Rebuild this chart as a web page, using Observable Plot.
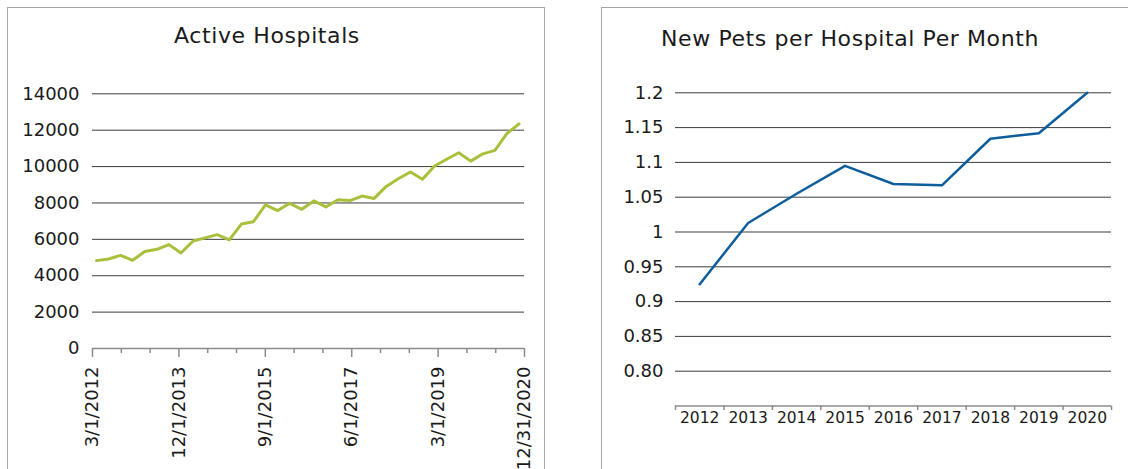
<!DOCTYPE html>
<html><head><meta charset="utf-8">
<script src="https://cdn.jsdelivr.net/npm/d3@7"></script>
<script src="https://cdn.jsdelivr.net/npm/@observablehq/plot@0.6"></script>
<style>
body{margin:0;background:#fff;width:1128px;height:469px;overflow:hidden;position:relative;font-family:"DejaVu Sans",sans-serif;color:#1a1a1a}
.panel{position:absolute;border:1.5px solid #a6a6a6;box-sizing:border-box}
#p1{left:7px;top:7px;width:538px;height:480px}
#p2{left:601px;top:7px;width:560px;height:480px}
.title{position:absolute;font-size:22px;line-height:22px;letter-spacing:0.6px;white-space:nowrap;transform:translateX(-50%)}
.chart{position:absolute}
</style></head><body>
<div class="panel" id="p1"></div><div class="panel" id="p2"></div>
<div class="title" style="left:267px;top:25px">Active Hospitals</div>
<div class="title" style="left:850px;top:28px">New Pets per Hospital Per Month</div>
<div class="chart" id="c1" style="left:0;top:60px"></div>
<div class="chart" id="c2" style="left:600px;top:60px"></div>
<script>
// ---- Active Hospitals (quarterly, Q1 2012 .. Q4 2020)
const quarters = ["2012Q1","2012Q2","2012Q3","2012Q4","2013Q1","2013Q2","2013Q3","2013Q4",
  "2014Q1","2014Q2","2014Q3","2014Q4","2015Q1","2015Q2","2015Q3","2015Q4",
  "2016Q1","2016Q2","2016Q3","2016Q4","2017Q1","2017Q2","2017Q3","2017Q4",
  "2018Q1","2018Q2","2018Q3","2018Q4","2019Q1","2019Q2","2019Q3","2019Q4",
  "2020Q1","2020Q2","2020Q3","2020Q4"];
const activeHospitals = [4830, 4920, 5120, 4850, 5330, 5450, 5710, 5250, 5910, 6080, 6260, 5970,
  6840, 6970, 7900, 7580, 7980, 7650, 8110, 7780, 8180, 8130, 8380, 8250,
  8910, 9330, 9700, 9300, 10030, 10400, 10760, 10300, 10700, 10890, 11820, 12350];
const dateTickLabels = ["3/1/2012","12/1/2013","9/1/2015","6/1/2017","3/1/2019","12/31/2020"];
const hospitalTicks = [0, 2000, 4000, 6000, 8000, 10000, 12000, 14000];

// ---- New Pets per Hospital per Month (yearly)
const years = [2012, 2013, 2014, 2015, 2016, 2017, 2018, 2019, 2020];
const newPetsPerHospital = [0.925, 1.013, 1.055, 1.095, 1.069, 1.067, 1.134, 1.142, 1.2];
const petTicks = [0.80, 0.85, 0.90, 0.95, 1.00, 1.05, 1.10, 1.15, 1.20];
const petTickLabels = ["0.80","0.85","0.9","0.95","1","1.05","1.1","1.15","1.2"];

const font = {fontFamily: "DejaVu Sans", color: "#1a1a1a", background: "transparent", overflow: "visible"};
const gridColor = "#3c3c3c", axisColor = "#8c8c8c";

// Chart 1
const hospData = quarters.map((q, i) => ({i, q, v: activeHospitals[i]}));
const x0 = -0.33, x1 = 35.45;
const allTicks = d3.range(16).map(k => x0 + k * (x1 - x0) / 15);
const majorTicks = allTicks.filter((d, k) => k % 3 === 0);
const minorTicks = allTicks.filter((d, k) => k % 3 !== 0);
const majorLabel = new Map(majorTicks.map((d, k) => [d, dateTickLabels[k]]));

const c1 = Plot.plot({
  width: 545, height: 410,
  marginLeft: 92, marginRight: 21, marginTop: 33.3, marginBottom: 122,
  style: font,
  x: {type: "linear", domain: [x0, x1], label: null},
  y: {domain: [0, 14000], label: null},
  marks: [
    Plot.ruleY(hospitalTicks.filter(d => d > 0), {stroke: gridColor, strokeWidth: 1}),
    Plot.ruleY([0], {stroke: axisColor, strokeWidth: 1.5}),
    Plot.axisY(hospitalTicks, {label: null, tickSize: 0, tickPadding: 13, fontSize: 18, tickFormat: d => String(d)}),
    Plot.axisX(minorTicks, {label: null, tickSize: 5, stroke: axisColor, strokeWidth: 1.5, tickFormat: () => ""}),
    Plot.axisX(majorTicks, {label: null, tickSize: 9, stroke: axisColor, strokeWidth: 1.5, tickRotate: -90, tickPadding: 9,
      fontSize: 18, tickFormat: d => majorLabel.get(d)}),
    Plot.line(hospData, {x: "i", y: "v", stroke: "#A8C03C", strokeWidth: 3})
  ]
});
document.getElementById("c1").appendChild(c1);

// Chart 2
const petData = years.map((y, i) => ({y, v: newPetsPerHospital[i]}));
const petLabel = new Map(petTicks.map((d, k) => [d, petTickLabels[k]]));
const bounds = d3.range(10).map(k => 2011.5 + k);
const c2 = Plot.plot({
  width: 528, height: 380,
  marginLeft: 75, marginRight: 17, marginTop: 32.3, marginBottom: 34.5,
  style: font,
  x: {type: "linear", domain: [2011.5, 2020.5], label: null},
  y: {domain: [0.75, 1.2], label: null},
  marks: [
    Plot.ruleY(petTicks, {stroke: gridColor, strokeWidth: 1}),
    Plot.ruleY([0.75], {stroke: axisColor, strokeWidth: 1.5}),
    Plot.axisY(petTicks, {label: null, tickSize: 0, tickPadding: 12, fontSize: 18, tickFormat: d => petLabel.get(d)}),
    Plot.axisX(bounds, {label: null, tickSize: 4.5, stroke: axisColor, strokeWidth: 1.5, tickFormat: () => ""}),
    Plot.axisX(years, {label: null, tickSize: 0, tickPadding: 5.5, fontSize: 15.5, tickFormat: d => String(d)}),
    Plot.line(petData, {x: "y", y: "v", stroke: "#0F5E9C", strokeWidth: 2.5})
  ]
});
document.getElementById("c2").appendChild(c2);
</script>
</body></html>
